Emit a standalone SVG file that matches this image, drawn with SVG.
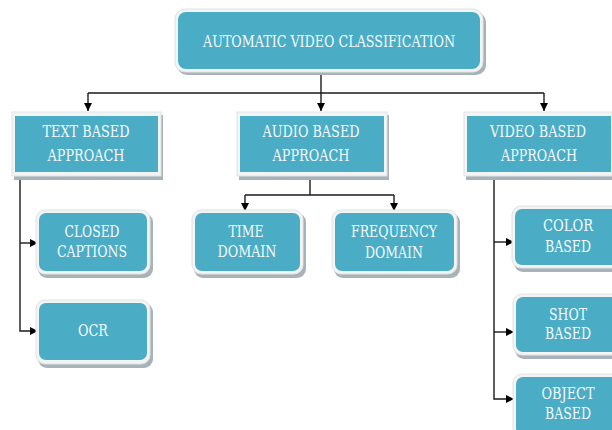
<svg xmlns="http://www.w3.org/2000/svg" width="612" height="430" viewBox="0 0 612 430">
<defs>
<style>
.sh{fill:#a7b3b9}
.fr{fill:#f3f4f4;stroke:#dfe3e5;stroke-width:1}
.in{fill:#4bacc6}
.t{font-family:"DejaVu Serif","Liberation Serif",serif;font-stretch:condensed;font-size:16px;fill:#f4fafc;text-anchor:middle}
.ln{stroke:#1a1a1a;stroke-width:1.4;fill:none}
</style>
<marker id="ar" viewBox="0 0 10 10" refX="10" refY="5" markerWidth="8" markerHeight="8" markerUnits="userSpaceOnUse" orient="auto">
<path d="M0,0 L10,5 L0,10 z" fill="#000"/>
</marker>
</defs>
<rect width="612" height="430" fill="#fff"/>

<g id="connectors">
<path class="ln" d="M321,72 V93"/>
<path class="ln" d="M88,93 H544"/>
<path class="ln" d="M88,93 V111" marker-end="url(#ar)"/>
<path class="ln" d="M321,93 V111" marker-end="url(#ar)"/>
<path class="ln" d="M544,93 V111" marker-end="url(#ar)"/>
<path class="ln" d="M20,176 V331 H38" marker-end="url(#ar)"/>
<path class="ln" d="M20,243 H38" marker-end="url(#ar)"/>
<path class="ln" d="M310,176 V195"/>
<path class="ln" d="M245,195 H394"/>
<path class="ln" d="M245,195 V211" marker-end="url(#ar)"/>
<path class="ln" d="M394,195 V211" marker-end="url(#ar)"/>
<path class="ln" d="M494,176 V399 H514" marker-end="url(#ar)"/>
<path class="ln" d="M494,242 H514" marker-end="url(#ar)"/>
<path class="ln" d="M494,332 H514" marker-end="url(#ar)"/>
</g>

<g id="root">
<rect class="sh" x="177" y="12" width="309" height="63" rx="10"/>
<rect class="fr" x="175" y="9" width="308" height="63" rx="10"/>
<rect class="in" x="178" y="12" width="302" height="57" rx="8"/>
<text class="t" x="329" y="47" textLength="252" lengthAdjust="spacingAndGlyphs">AUTOMATIC VIDEO CLASSIFICATION</text>
</g>

<g id="text-based">
<rect class="sh" x="14" y="115" width="149" height="65"/>
<rect class="fr" x="12" y="112" width="149" height="64"/>
<rect class="in" x="15" y="116" width="143" height="56"/>
<text class="t" x="86" y="137" textLength="87" lengthAdjust="spacingAndGlyphs">TEXT BASED</text>
<text class="t" x="86" y="161" textLength="77" lengthAdjust="spacingAndGlyphs">APPROACH</text>
</g>

<g id="audio-based">
<rect class="sh" x="239" y="115" width="150" height="65"/>
<rect class="fr" x="237" y="112" width="150" height="64"/>
<rect class="in" x="240" y="116" width="144" height="56"/>
<text class="t" x="311" y="137" textLength="97" lengthAdjust="spacingAndGlyphs">AUDIO BASED</text>
<text class="t" x="311" y="161" textLength="77" lengthAdjust="spacingAndGlyphs">APPROACH</text>
</g>

<g id="video-based">
<rect class="sh" x="466" y="115" width="150" height="65"/>
<rect class="fr" x="464" y="112" width="150" height="64"/>
<rect class="in" x="467" y="116" width="144" height="56"/>
<text class="t" x="538" y="137" textLength="96" lengthAdjust="spacingAndGlyphs">VIDEO BASED</text>
<text class="t" x="539" y="161" textLength="76" lengthAdjust="spacingAndGlyphs">APPROACH</text>
</g>

<g id="closed-captions">
<rect class="sh" x="38" y="213" width="115" height="65" rx="9"/>
<rect class="fr" x="36" y="210" width="114" height="64" rx="9"/>
<rect class="in" x="39" y="213" width="108" height="58" rx="7"/>
<text class="t" x="92" y="237" textLength="55" lengthAdjust="spacingAndGlyphs">CLOSED</text>
<text class="t" x="92" y="257" textLength="70" lengthAdjust="spacingAndGlyphs">CAPTIONS</text>
</g>

<g id="ocr">
<rect class="sh" x="38" y="303" width="115" height="65" rx="9"/>
<rect class="fr" x="36" y="300" width="114" height="64" rx="9"/>
<rect class="in" x="39" y="303" width="108" height="57" rx="7"/>
<text class="t" x="93" y="336" textLength="30" lengthAdjust="spacingAndGlyphs">OCR</text>
</g>

<g id="time-domain">
<rect class="sh" x="194" y="213" width="112" height="65" rx="9"/>
<rect class="fr" x="192" y="210" width="111" height="64" rx="9"/>
<rect class="in" x="195" y="213" width="105" height="58" rx="7"/>
<text class="t" x="246" y="237" textLength="35" lengthAdjust="spacingAndGlyphs">TIME</text>
<text class="t" x="247" y="257" textLength="59" lengthAdjust="spacingAndGlyphs">DOMAIN</text>
</g>

<g id="frequency-domain">
<rect class="sh" x="334" y="213" width="126" height="65" rx="9"/>
<rect class="fr" x="332" y="210" width="125" height="64" rx="9"/>
<rect class="in" x="335" y="213" width="119" height="58" rx="7"/>
<text class="t" x="394" y="237" textLength="86" lengthAdjust="spacingAndGlyphs">FREQUENCY</text>
<text class="t" x="394" y="258" textLength="58" lengthAdjust="spacingAndGlyphs">DOMAIN</text>
</g>

<g id="color-based">
<rect class="sh" x="514" y="209" width="114" height="63" rx="9"/>
<rect class="fr" x="512" y="206" width="113" height="62" rx="9"/>
<rect class="in" x="515" y="209" width="107" height="56" rx="7"/>
<text class="t" x="568" y="231" textLength="50" lengthAdjust="spacingAndGlyphs">COLOR</text>
<text class="t" x="568" y="252" textLength="46" lengthAdjust="spacingAndGlyphs">BASED</text>
</g>

<g id="shot-based">
<rect class="sh" x="515" y="297" width="114" height="62" rx="9"/>
<rect class="fr" x="513" y="294" width="113" height="61" rx="9"/>
<rect class="in" x="516" y="297" width="107" height="55" rx="7"/>
<text class="t" x="568" y="320" textLength="38" lengthAdjust="spacingAndGlyphs">SHOT</text>
<text class="t" x="568" y="339" textLength="46" lengthAdjust="spacingAndGlyphs">BASED</text>
</g>

<g id="object-based">
<rect class="sh" x="515" y="377" width="114" height="65" rx="9"/>
<rect class="fr" x="513" y="374" width="113" height="64" rx="9"/>
<rect class="in" x="516" y="377" width="107" height="58" rx="7"/>
<text class="t" x="568" y="399" textLength="53" lengthAdjust="spacingAndGlyphs">OBJECT</text>
<text class="t" x="568" y="419" textLength="46" lengthAdjust="spacingAndGlyphs">BASED</text>
</g>
</svg>
